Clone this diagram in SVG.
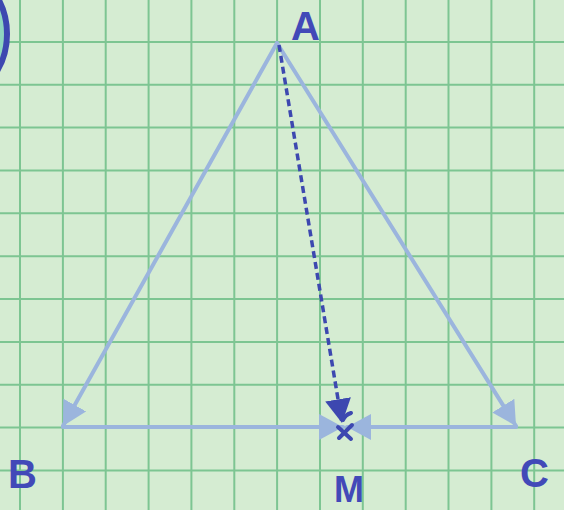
<svg xmlns="http://www.w3.org/2000/svg" width="564" height="510" viewBox="0 0 564 510">
<style>
.grid line{stroke:#7dc592;stroke-width:2}
.edge{stroke:#9bb5dd;stroke-width:4;fill:none;stroke-linecap:round}
.med{stroke:#3d48b0;stroke-width:3.5;fill:none;stroke-dasharray:7 4}
.lbl{font-family:"Liberation Sans",Arial,sans-serif;font-weight:bold;fill:#4249b8;font-size:40px}
</style>
<defs>
<marker id="lb" viewBox="0 0 24 26" refX="24" refY="13" markerWidth="24" markerHeight="26" markerUnits="userSpaceOnUse" orient="auto">
<path d="M0,0 L24,13 L0,26 Z" fill="#9bb5dd"/>
</marker>
<marker id="db" viewBox="0 0 24 26" refX="24" refY="13" markerWidth="24" markerHeight="26" markerUnits="userSpaceOnUse" orient="auto">
<path d="M0,0 L24,13 L0,26 Z" fill="#3d48b0"/>
</marker>
</defs>
<rect width="564" height="510" fill="#d5ecd2"/>
<g class="grid">
<line x1="20" y1="0" x2="20" y2="510"/><line x1="62.9" y1="0" x2="62.9" y2="510"/><line x1="105.7" y1="0" x2="105.7" y2="510"/><line x1="148.6" y1="0" x2="148.6" y2="510"/><line x1="191.4" y1="0" x2="191.4" y2="510"/><line x1="234.3" y1="0" x2="234.3" y2="510"/><line x1="277.1" y1="0" x2="277.1" y2="510"/><line x1="320" y1="0" x2="320" y2="510"/><line x1="362.8" y1="0" x2="362.8" y2="510"/><line x1="405.7" y1="0" x2="405.7" y2="510"/><line x1="448.5" y1="0" x2="448.5" y2="510"/><line x1="491.4" y1="0" x2="491.4" y2="510"/><line x1="534.2" y1="0" x2="534.2" y2="510"/>
<line x1="0" y1="41.9" x2="564" y2="41.9"/><line x1="0" y1="84.8" x2="564" y2="84.8"/><line x1="0" y1="127.6" x2="564" y2="127.6"/><line x1="0" y1="170.5" x2="564" y2="170.5"/><line x1="0" y1="213.3" x2="564" y2="213.3"/><line x1="0" y1="256.2" x2="564" y2="256.2"/><line x1="0" y1="299" x2="564" y2="299"/><line x1="0" y1="341.9" x2="564" y2="341.9"/><line x1="0" y1="384.7" x2="564" y2="384.7"/><line x1="0" y1="427.6" x2="564" y2="427.6"/><line x1="0" y1="470.4" x2="564" y2="470.4"/>
</g>
<circle cx="-66" cy="34" r="73" fill="#8fd6c0" stroke="#3d48b0" stroke-width="6"/>
<g id="connectors">
<line class="edge" x1="277" y1="43" x2="63" y2="426" marker-end="url(#lb)"/>
<line class="edge" x1="277" y1="43" x2="516" y2="426" marker-end="url(#lb)"/>
<line class="edge" x1="63" y1="427" x2="343" y2="427" marker-end="url(#lb)"/>
<line class="edge" x1="516" y1="427" x2="347" y2="427" marker-end="url(#lb)"/>
<line class="med" x1="279" y1="45" x2="342" y2="423" marker-end="url(#db)"/>
<path d="M338,427 L351,439 M352,425 L339,438 M343,420 q2,-5 8,-7" stroke="#3d48b0" stroke-width="4" fill="none" stroke-linecap="round"/>
</g>
<g id="A"><text class="lbl" x="291" y="40">A</text></g>
<g id="B"><text class="lbl" x="8" y="488">B</text></g>
<g id="C"><text class="lbl" x="520" y="487">C</text></g>
<g id="M"><text class="lbl" x="334" y="502" style="font-size:36px">M</text></g>
</svg>
